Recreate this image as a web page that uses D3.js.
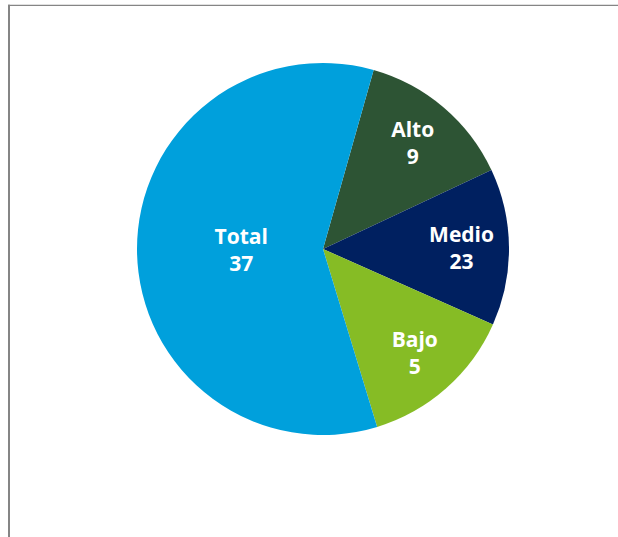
<html lang="es">
<head>
  <meta charset="utf-8">
  <title>Pie</title>
  <script src="https://d3js.org/d3.v7.min.js"></script>
  <style>
    body { margin: 0; background: #fff; }
    .label { font-family: "Open Sans", sans-serif; font-weight: 700; fill: #fff; }
  </style>
</head>
<body>
<svg id="pie"></svg>
<script>
// slice names, the values printed in them, and their share of the circle
var categories = ["Alto", "Medio", "Bajo", "Total"];
var labelValues = [9, 23, 5, 37];
var sliceShare = [9, 9, 9, 39];
var colors = ["#2D5434", "#002060", "#86BC25", "#00A0DC"];

var config = {
  w: 618,
  h: 537,
  cx: 323,
  cy: 249,
  r: 186,
  startDeg: 15.8
};

var svg = d3.select("#pie")
  .attr("width", config.w)
  .attr("height", config.h);

// frame: top and left border
svg.append("line")
  .attr("x1", 8).attr("x2", config.w)
  .attr("y1", 5.3).attr("y2", 5.3)
  .attr("stroke", "#858585")
  .attr("stroke-width", 1.3);
svg.append("line")
  .attr("x1", 9).attr("x2", 9)
  .attr("y1", 4.7).attr("y2", config.h)
  .attr("stroke", "#858585")
  .attr("stroke-width", 2);

var data = categories.map(function(c, i) {
  return { name: c, value: labelValues[i], share: sliceShare[i], color: colors[i] };
});

var start = config.startDeg * Math.PI / 180;

var pie = d3.pie()
  .sort(null)
  .value(function(d) { return d.share; })
  .startAngle(start)
  .endAngle(start + 2 * Math.PI);

var arcs = pie(data);
var total = d3.sum(sliceShare);

var arc = d3.arc().innerRadius(0).outerRadius(config.r);

var g = svg.append("g")
  .attr("transform", "translate(" + config.cx + "," + config.cy + ")");

g.selectAll("path")
  .data(arcs)
  .enter()
  .append("path")
  .attr("d", arc)
  .attr("fill", function(d) { return d.data.color; });

// label position: big slice closer to center
function labelPos(d) {
  var lr = d.data.share / total > 0.5 ? 0.44 * config.r : 0.745 * config.r;
  return d3.arc().innerRadius(lr).outerRadius(lr).centroid(d);
}

var labels = g.selectAll("text")
  .data(arcs)
  .enter()
  .append("text")
  .attr("class", "label")
  .attr("text-anchor", "middle")
  .style("font-size", "21px")
  .attr("transform", function(d) {
    var p = labelPos(d);
    return "translate(" + p[0] + "," + p[1] + ")";
  });

labels.append("tspan")
  .attr("x", 0)
  .attr("y", -6)
  .text(function(d) { return d.data.name; });

labels.append("tspan")
  .attr("x", 0)
  .attr("y", 21)
  .text(function(d) { return d.data.value; });
</script>
</body>
</html>
